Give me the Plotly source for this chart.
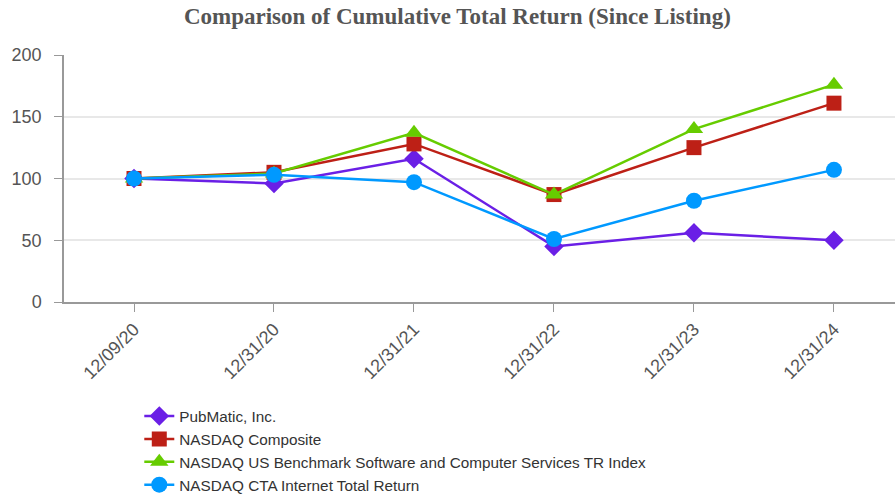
import plotly.graph_objects as go

dates = ["12/09/20", "12/31/20", "12/31/21", "12/31/22", "12/31/23", "12/31/24"]
pubmatic = [100, 96, 116, 45, 56, 50]
nasdaq_comp = [100, 105, 128, 87, 125, 161]
nasdaq_soft = [100, 104, 137, 87, 140, 176]
nasdaq_internet = [100, 103, 97, 51, 82, 107]

series = [
    ("PubMatic, Inc.", pubmatic, "#6a1fe6", "diamond", 15),
    ("NASDAQ Composite", nasdaq_comp, "#bd2016", "square", 15),
    ("NASDAQ US Benchmark Software and Computer Services TR Index", nasdaq_soft, "#66cc00", "triangle-up", 16),
    ("NASDAQ CTA Internet Total Return", nasdaq_internet, "#0099ff", "circle", 16),
]

fig = go.Figure()
for name, vals, color, sym, size in series:
    fig.add_trace(go.Scatter(
        x=dates, y=vals, name=name, mode="lines+markers",
        line=dict(color=color, width=2.5),
        marker=dict(symbol=sym, size=size, color=color),
    ))

fig.update_layout(
    width=895, height=498,
    margin=dict(l=64, r=0, t=55, b=196, autoexpand=False),
    paper_bgcolor="white", plot_bgcolor="white",
    title=dict(text="<b>Comparison of Cumulative Total Return (Since Listing)</b>",
               x=0.511, xanchor="center", y=0.967, yanchor="middle",
               font=dict(family="Liberation Serif", size=23, color="#555555")),
    font=dict(family="Liberation Sans", color="#555555"),
    showlegend=True,
    legend=dict(x=0.0906, xanchor="left", y=-0.395, yanchor="top",
                orientation="v", font=dict(size=15.3, color="#333333"),
                bgcolor="rgba(0,0,0,0)", itemwidth=30, tracegroupgap=0),
    xaxis=dict(type="category", range=[-0.5, 5.436], showgrid=False,
               automargin=False,
               showline=True, linecolor="#999999", linewidth=1.5,
               ticks="outside", ticklen=8, tickcolor="#999999",
               ticklabelstandoff=0,
               tickangle=-45, tickfont=dict(size=18, color="#555555")),
    yaxis=dict(range=[0, 200], dtick=50, showgrid=True, gridcolor="#e8e8e8",
               gridwidth=1.5, zeroline=False, automargin=False,
               showline=True, linecolor="#999999", linewidth=1.5,
               ticks="outside", ticklen=8, tickcolor="#999999",
               ticklabelstandoff=9,
               tickfont=dict(size=18, color="#555555")),
)

fig.write_html("out.html", config={"displayModeBar": False},
               post_script="document.body.style.margin='0';")
